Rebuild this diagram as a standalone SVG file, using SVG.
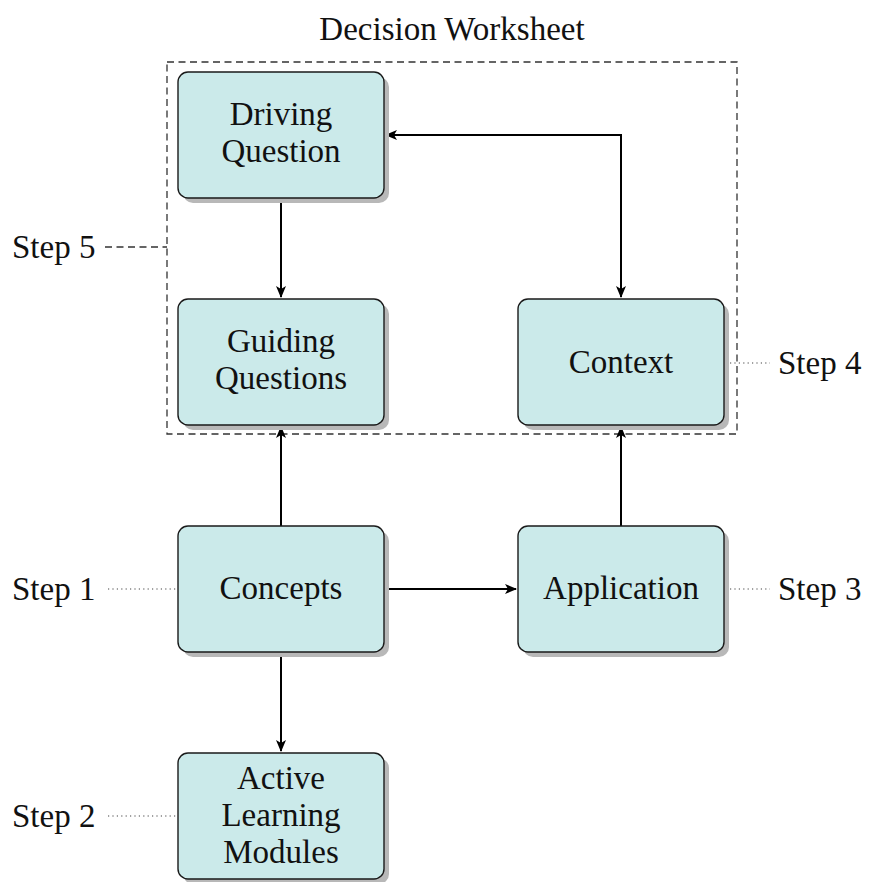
<svg xmlns="http://www.w3.org/2000/svg" width="896" height="882" viewBox="0 0 896 882">
<defs>
<style>
.txt{font-family:"Liberation Serif","Times New Roman",serif;font-size:33px;fill:#111;text-anchor:middle}
.lbl{font-family:"Liberation Serif","Times New Roman",serif;font-size:33px;fill:#111}
.box{fill:#cbeaea;stroke:#1a1a1a;stroke-width:1.4}
.shadow{fill:#b8b8b8}
.edge{fill:none;stroke:#000;stroke-width:2}
.dot{fill:none;stroke:#444;stroke-width:1.1;stroke-dasharray:1.2 3.2}
.dash{fill:none;stroke:#333;stroke-width:1.3;stroke-dasharray:7 4.5}
</style>
<marker id="ah" viewBox="0 0 12 10" refX="11" refY="5" markerWidth="13" markerHeight="10" markerUnits="userSpaceOnUse" orient="auto-start-reverse">
<path d="M0,0 L12,5 L0,10 L3,5 Z" fill="#000"/>
</marker>
</defs>
<rect width="896" height="882" fill="#fff"/>
<text class="txt" x="452" y="40">Decision Worksheet</text>
<rect class="dash" x="167" y="62" width="570" height="372"/>
<g id="connectors">
<path class="edge" d="M281,198 V297" marker-end="url(#ah)"/>
<path class="edge" d="M281,526 V427" marker-end="url(#ah)"/>
<path class="edge" d="M621,526 V427" marker-end="url(#ah)"/>
<path class="edge" d="M384,589 H516" marker-end="url(#ah)"/>
<path class="edge" d="M281,652 V751" marker-end="url(#ah)"/>
<path class="edge" d="M621,297 V135 H386" marker-start="url(#ah)" marker-end="url(#ah)"/>
<path class="dash" d="M105,247 H167"/>
<path class="dot" d="M108,589 H178"/>
<path class="dot" d="M108,816 H178"/>
<path class="dot" d="M730,363 H770"/>
<path class="dot" d="M730,589 H770"/>
</g>
<g id="driving">
<rect class="shadow" x="183" y="77" width="206" height="126" rx="10"/>
<rect class="box" x="178" y="72" width="206" height="126" rx="10"/>
<text class="txt" x="281" y="125">Driving</text>
<text class="txt" x="281" y="162">Question</text>
</g>
<g id="guiding">
<rect class="shadow" x="183" y="304" width="206" height="126" rx="10"/>
<rect class="box" x="178" y="299" width="206" height="126" rx="10"/>
<text class="txt" x="281" y="352">Guiding</text>
<text class="txt" x="281" y="389">Questions</text>
</g>
<g id="context">
<rect class="shadow" x="523" y="304" width="206" height="126" rx="10"/>
<rect class="box" x="518" y="299" width="206" height="126" rx="10"/>
<text class="txt" x="621" y="373">Context</text>
</g>
<g id="concepts">
<rect class="shadow" x="183" y="531" width="206" height="126" rx="10"/>
<rect class="box" x="178" y="526" width="206" height="126" rx="10"/>
<text class="txt" x="281" y="599">Concepts</text>
</g>
<g id="application">
<rect class="shadow" x="523" y="531" width="206" height="126" rx="10"/>
<rect class="box" x="518" y="526" width="206" height="126" rx="10"/>
<text class="txt" x="621" y="599">Application</text>
</g>
<g id="active">
<rect class="shadow" x="183" y="758" width="206" height="126" rx="10"/>
<rect class="box" x="178" y="753" width="206" height="126" rx="10"/>
<text class="txt" x="281" y="789">Active</text>
<text class="txt" x="281" y="826">Learning</text>
<text class="txt" x="281" y="863">Modules</text>
</g>
<g id="steps">
<text class="lbl" x="12" y="258">Step 5</text>
<text class="lbl" x="778" y="374">Step 4</text>
<text class="lbl" x="12" y="600">Step 1</text>
<text class="lbl" x="778" y="600">Step 3</text>
<text class="lbl" x="12" y="827">Step 2</text>
</g>
</svg>
